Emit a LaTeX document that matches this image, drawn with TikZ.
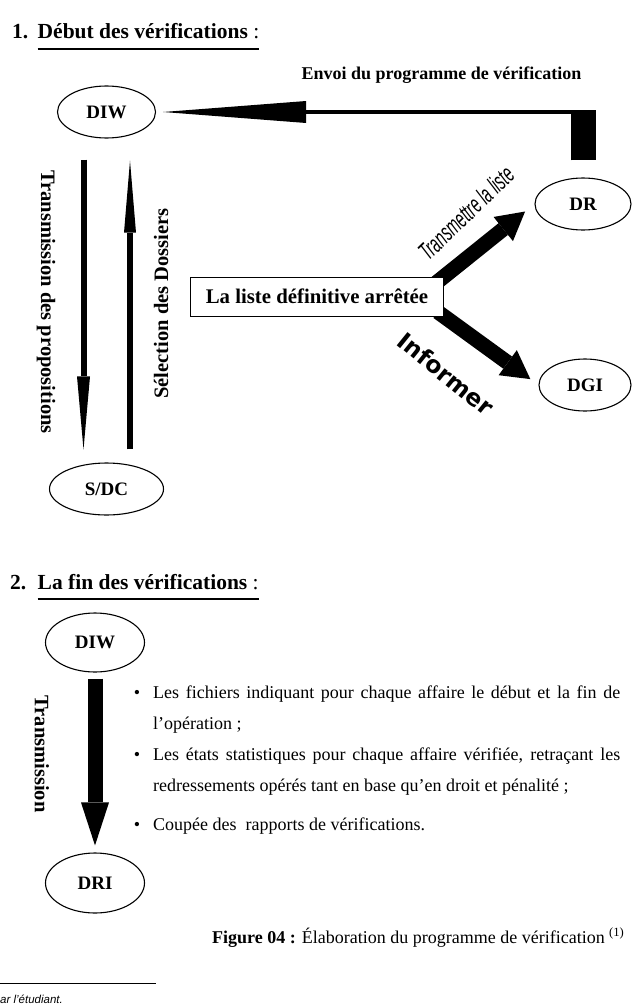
\documentclass[tikz,border=0pt]{standalone}
\usepackage{fontspec}
\usepackage{graphicx}
\setmainfont{Liberation Serif}
\setsansfont{Liberation Sans}
\newfontfamily\dejavu{DejaVu Sans}
\usetikzlibrary{shapes.geometric}
\usetikzlibrary{arrows.meta}
\usetikzlibrary{positioning}
\usetikzlibrary{calc}
\hyphenpenalty=10000
\exhyphenpenalty=10000

\begin{document}
\begin{tikzpicture}[x=1pt, y=-1pt,
    service/.style={ellipse, draw=black, line width=1.1pt, inner sep=0pt, font=\fontsize{19}{22}\selectfont\bfseries},
    bloc/.style={rectangle, draw=black, fill=white, line width=1pt, minimum width=253pt, minimum height=39pt, font=\fontsize{20.8}{24}\selectfont\bfseries},
    libelle/.style={inner sep=0pt, font=\fontsize{20.5}{24}\selectfont\bfseries},
    titre/.style={inner sep=0pt, anchor=base west, font=\fontsize{21.5}{26}\selectfont},
    corps/.style={inner sep=0pt, anchor=base west, text width=467pt, align=justify, font=\fontsize{18}{31}\selectfont},
    fleche epaisse/.style={line width=15pt, -{Triangle[length=28pt, width=31pt, line width=0pt]}}
  ]

  \useasboundingbox (0,0) rectangle (632,1004);

  % 1. Debut des verifications
  \node[titre] (num1) at (12,38) {\textbf{1.}};
  \node[titre] (titre1) at (37.5,38) {\textbf{Début des vérifications} :};
  \draw[line width=1.5pt] ([yshift=-11pt]titre1.base west) -- ([yshift=-11pt]titre1.base east);

  % Services
  \node[service, minimum width=98pt, minimum height=52pt] (diw) at (106.5,112) {DIW};
  \node[service, minimum width=96pt, minimum height=52pt] (dr) at (583,204) {DR};
  \node[service, minimum width=114pt, minimum height=52pt] (sdc) at (106.5,489) {S/DC};
  \node[service, minimum width=92pt, minimum height=52pt] (dgi) at (585,385) {DGI};

  % Envoi du programme : DR -> DIW
  \node[inner sep=0pt, font=\fontsize{18}{22}\selectfont\bfseries] (envoi) at (441.5,75) {Envoi du programme de vérification};
  \coordinate (coude) at (dr.north |- diw.east);
  \draw[line width=25pt] ([yshift=17pt]dr.north) -- ([yshift=2.25pt]coude);
  \draw[line width=4.5pt, -{Triangle[length=143pt, width=22pt, line width=0pt]}, shorten >=7pt] ([xshift=12.5pt]coude) -- (diw.east);

  % DIW <-> S/DC
  \draw[line width=6pt, -{Triangle[length=73pt, width=13pt, line width=0pt]}, shorten <=21pt, shorten >=13pt] ([xshift=-23pt]diw.south) -- ([xshift=-23pt]sdc.north);
  \draw[line width=6pt, -{Triangle[length=72pt, width=12pt, line width=0pt]}, shorten <=13pt, shorten >=22pt] ([xshift=23.5pt]sdc.north) -- ([xshift=23.5pt]diw.south);
  \node[libelle, rotate=-90] (transprop) at (46,302) {Transmission des propositions};
  \node[libelle, rotate=90] (selection) at (161,303.5) {Sélection des Dossiers};

  % La liste -> DR et DGI
  \coordinate (centreListe) at (317,296.5);
  \coordinate (coinHaut) at ($(centreListe)+(126.5,-19.5)$);
  \coordinate (coinBas) at ($(centreListe)+(126.5,19.5)$);
  \draw[fleche epaisse, shorten <=-10pt, shorten >=12pt] (coinHaut) -- (dr.west);
  \draw[fleche epaisse, shorten <=-7pt, shorten >=10pt] (coinBas) -- (dgi.west);
  \node[bloc] (liste) at (centreListe) {La liste définitive arrêtée};
  \node[rotate=44, inner sep=0pt, font=\sffamily\itshape\fontsize{25}{28}\selectfont] (transmettre) at (466,213) {\scalebox{0.58}[1]{Transmettre la liste}};
  \node[rotate=-39, inner sep=0pt, font=\dejavu\bfseries\fontsize{23.5}{26}\selectfont] (informer) at (446,374) {Informer};

  % 2. La fin des verifications
  \node[titre] (num2) at (10,589) {\textbf{2.}};
  \node[titre] (titre2) at (37.5,589) {\textbf{La fin des vérifications} :};
  \draw[line width=1.5pt] ([yshift=-10pt]titre2.base west) -- ([yshift=-10pt]titre2.base east);

  \node[service, minimum width=99pt, minimum height=59pt] (diw2) at (95,642.5) {DIW};
  \node[service, minimum width=99pt, minimum height=60pt] (dri) at (95,883) {DRI};
  \draw[line width=15pt, -{Triangle[length=43pt, width=28pt, line width=0pt]}, shorten <=6pt, shorten >=7pt] (diw2.south) -- (dri.north);
  \node[libelle, rotate=-90] (transmission) at (42,754) {Transmission};

  % Documents transmis
  \foreach \y/\texte in {698/{Les fichiers indiquant pour chaque affaire le début et la fin de l’opération ;},
                         760/{Les états statistiques pour chaque affaire vérifiée, retraçant les redressements opérés tant en base qu’en droit et pénalité ;},
                         830/{Coupée des\ \ rapports de vérifications.}} {
    \node[corps] (puce\y) at (153,\y) {\llap{\textbullet\hspace{13pt}}\texte};
  }

  % Legende et note
  \node[inner sep=0pt, anchor=base west, font=\fontsize{18}{22}\selectfont] (legende) at (212,943) {\textbf{Figure 04 :} Élaboration du programme de vérification \textsuperscript{(1)}};
  \draw[line width=0.8pt] (0,983) -- (156,983);
  \node[inner sep=0pt, anchor=base west, font=\sffamily\itshape\fontsize{11.5}{13}\selectfont] (source) at (0,1003) {ar l’étudiant.};

\end{tikzpicture}
\end{document}
